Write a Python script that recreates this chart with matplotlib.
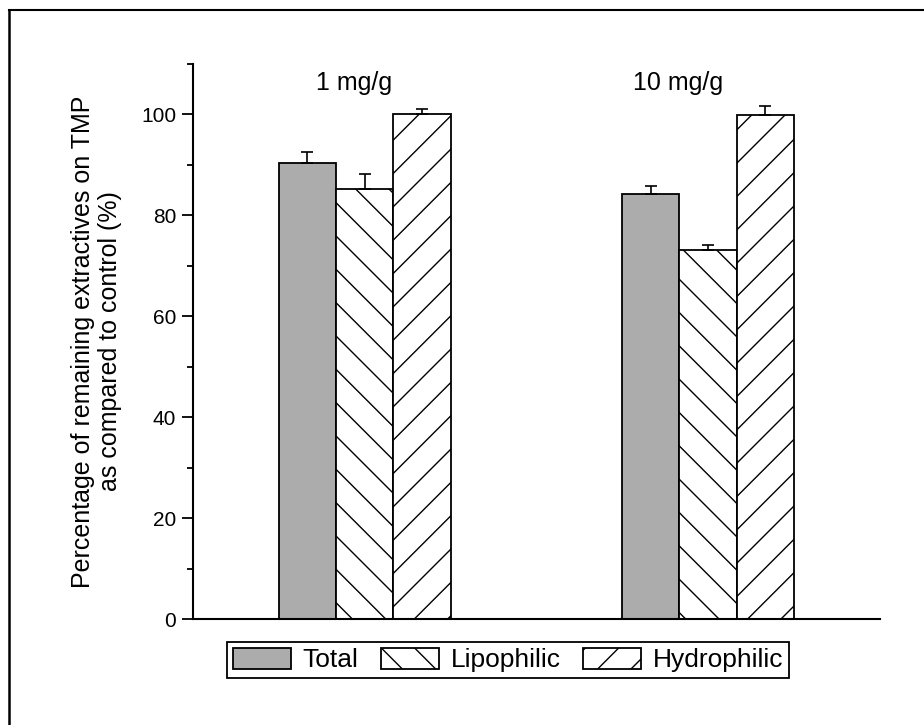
import numpy as np
import matplotlib
matplotlib.use("Agg")
import matplotlib.pyplot as plt

plt.rcParams['font.family'] = ['Liberation Sans', 'DejaVu Sans']
plt.rcParams['hatch.linewidth'] = 1.0

# data
groups = ["1 mg/g", "10 mg/g"]
series = ["Total", "Lipophilic", "Hydrophilic"]
total = [90.3, 84.2]
total_err = [2.2, 1.7]
lipophilic = [85.2, 73.1]
lipophilic_err = [3.0, 1.1]
hydrophilic = [100.1, 99.9]
hydrophilic_err = [0.9, 1.8]

values = [total, lipophilic, hydrophilic]
errors = [total_err, lipophilic_err, hydrophilic_err]
faces = ['#acacac', 'white', 'white']
hatches = [None, '\\', '/']

fig = plt.figure(figsize=(9.24, 7.25), dpi=100)
ax = fig.add_axes([0.2089, 0.1462, 0.7431, 0.7655])

x = np.arange(1, len(groups) + 1)
width = 0.167
for i in range(len(series)):
    pos = x + (i - 1) * width
    ax.bar(pos, values[i], width, color=faces[i], edgecolor='black',
           linewidth=1.3, hatch=hatches[i], label=series[i], zorder=2)
    ax.errorbar(pos, values[i], yerr=[np.zeros(len(groups)), errors[i]],
                fmt='none', ecolor='black', elinewidth=1.2, capsize=4,
                capthick=1.2, zorder=3)

ax.set_xlim(0.5, 2.5)
ax.set_ylim(0, 110)
ax.set_yticks([0, 20, 40, 60, 80, 100])
ax.set_yticks([10, 30, 50, 70, 90, 110], minor=True)
ax.set_xticks([])
ax.tick_params(axis='y', which='major', length=8, width=1.3, labelsize=15, pad=4)
ax.tick_params(axis='y', which='minor', length=4, width=1.3)
ax.spines['top'].set_visible(False)
ax.spines['right'].set_visible(False)
ax.spines['left'].set_linewidth(1.5)
ax.spines['bottom'].set_linewidth(1.5)

ax.set_ylabel("Percentage of remaining extractives on TMP\nas compared to control (%)",
              fontsize=18, linespacing=1.2)
ax.yaxis.set_label_coords(-0.103, 0.5)

label_x = [0.968, 1.914]
for gx, g in zip(label_x, groups):
    ax.text(gx, 106.3, g, ha='center', va='center', fontsize=18)

leg = fig.legend(loc='center', bbox_to_anchor=(0.55, 0.0897), ncol=3,
                 fontsize=19, frameon=True, fancybox=False, framealpha=1,
                 edgecolor='black', handlelength=2.2, handleheight=0.85,
                 handletextpad=0.45, columnspacing=0.85, borderpad=0.2,
                 borderaxespad=0)
leg.get_frame().set_linewidth(1.3)

# outer frame (top and left edges only visible)
fig.add_artist(plt.Line2D([0.0097, 1.0], [0.986, 0.986], color='black', lw=1.5,
                          transform=fig.transFigure))
fig.add_artist(plt.Line2D([0.0097, 0.0097], [0.0, 0.986], color='black', lw=1.8,
                          transform=fig.transFigure))

plt.savefig('out.png', dpi=100)
plt.close()
